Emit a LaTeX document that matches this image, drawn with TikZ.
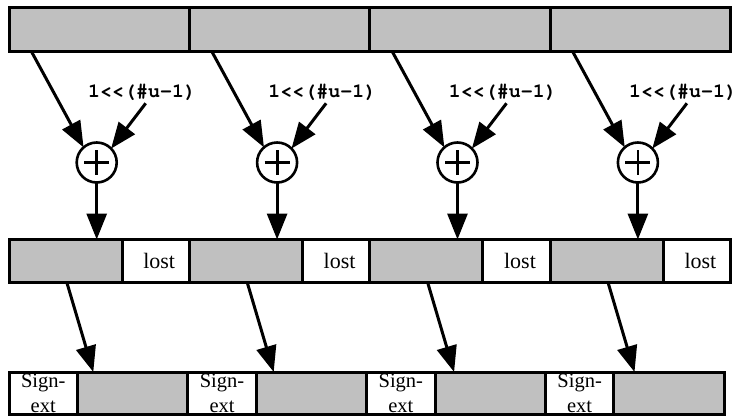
\documentclass[tikz,border=0pt]{standalone}
\usepackage{fontspec}
\setmainfont{Liberation Serif}
\newfontfamily\codefont{TeX Gyre Cursor}
\usetikzlibrary{arrows.meta,calc}
\definecolor{boxgray}{RGB}{192,192,192}
\begin{document}
\begin{tikzpicture}[x=1pt,y=-1pt,
  every node/.style={inner sep=0pt,outer sep=0pt},
  field/.style={rectangle,draw,line width=3pt,anchor=north west},
  topbox/.style={field,fill=boxgray,minimum width=180.4pt,minimum height=44pt},
  midgray/.style={field,fill=boxgray,minimum width=113pt,minimum height=42.5pt},
  lostbox/.style={field,fill=white,minimum width=67.4pt,minimum height=42.5pt,font=\fontsize{22}{26}\selectfont},
  signbox/.style={field,fill=white,minimum width=68.5pt,minimum height=42.5pt,align=center,font=\fontsize{20.5}{25}\selectfont},
  botgray/.style={field,fill=boxgray,minimum width=110.3pt,minimum height=42.5pt},
  adder/.style={circle,draw,line width=2.6pt,fill=white,minimum size=40pt,
    path picture={\draw[line width=2.8pt]
      ($(path picture bounding box.center)+(-12.5,0)$) -- ++(25,0)
      ($(path picture bounding box.center)+(0,-12)$) -- ++(0,24);}},
  lab/.style={anchor=base,font=\codefont\bfseries\fontsize{20}{24}\selectfont},
  arr/.style={line width=3pt,-{Triangle[length=26pt,width=20pt]}}
]
\useasboundingbox (0,0) rectangle (739,417);
\foreach \i in {0,...,3} {
  \node[topbox] (t\i) at ({9+180.4*\i},8) {};
  \node[midgray] (m\i) at ({9+180.4*\i},239.5) {};
  \node[lostbox] (l\i) at ({122+180.4*\i},239.5) {\hspace*{7pt}lost};
  \node[signbox] (s\i) at ({9+178.8*\i},372) {Sign-\\ext};
  \node[botgray] (g\i) at ({77.5+178.8*\i},372) {};
  \node[adder] (c\i) at ({96.7+180.4*\i},162.5) {};
  \node[lab] (lab\i) at ({142+180.4*\i},97.7) {1<\kern0pt<(\#u-1)};
  \coordinate (bt\i) at ($(m\i.south west)+(84.3,0)$);
  \draw[arr] ($(t\i.south west)+(22.7,0)$) -- (c\i.131);
  \draw[arr] ($(lab\i.base)+(3.7,5.6)$) -- (c\i.44);
  \draw[arr] (c\i.south) -- (c\i.south |- m\i.north);
  \draw[arr] ($(m\i.south west)+(57.7,0)$) -- (bt\i |- g\i.north);
}
\end{tikzpicture}
\end{document}
